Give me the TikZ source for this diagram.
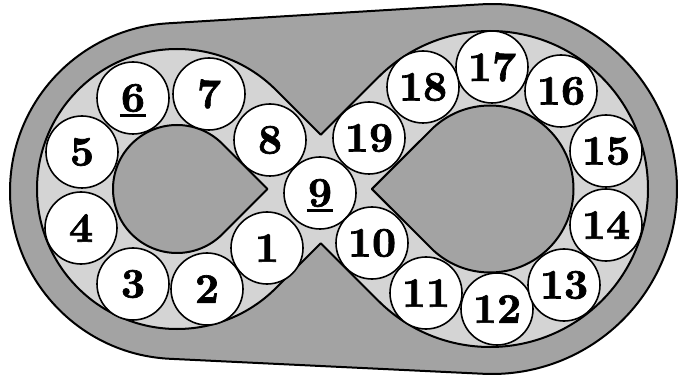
\documentclass[tikz,border=0pt]{standalone}
\usepackage{fontspec}
\usepackage{tikz}
\usetikzlibrary{calc}
\definecolor{bandgray}{HTML}{A3A3A3}
\definecolor{ringgray}{HTML}{D4D4D4}
\newfontfamily\heavynum{lmroman10-bold}[Extension=.otf, FakeBold=1.6]
\newcommand{\ulnum}[1]{\setbox0=\hbox{#1}\rlap{\kern-1pt\smash{\rule[-5pt]{\dimexpr\wd0+2pt\relax}{3pt}}}\box0}

\begin{document}
\begin{tikzpicture}[
    x=1pt, y=1pt,
    seat/.style={circle, draw, line width=1.6pt, fill=white, minimum size=72pt, inner sep=0pt,
        font=\fontsize{42}{42}\selectfont\heavynum},
    outline/.style={draw, line width=2pt, line join=round},
]
    \useasboundingbox (0,0) rectangle (681,-377);

    % outer band
    \coordinate (o1) at (178,-191);
    \coordinate (o2) at (492,-189);
    \draw[outline, fill=bandgray] ($(o1)+(93.47:168)$) -- ($(o2)+(93.47:185)$)
        arc[start angle=93.47, end angle=-92.74, radius=185pt]
        -- ($(o1)+(-92.74:168)$)
        arc[start angle=267.26, end angle=93.47, radius=168pt] -- cycle;

    % figure eight
    \coordinate (L) at (177,-189);
    \coordinate (R) at (490,-189);
    \coordinate (tl) at ($(L)+(45:140)$);
    \coordinate (bl) at ($(L)+(-45:140)$);
    \coordinate (tr) at ($(R)+(135:158)$);
    \coordinate (br) at ($(R)+(-135:158)$);
    \coordinate (al) at ($(L)+(197.99,0)$);
    \coordinate (ar) at ($(R)-(223.45,0)$);
    \coordinate (vt) at (intersection of tl--al and tr--ar);
    \coordinate (vb) at (intersection of bl--al and br--ar);
    \draw[outline, fill=ringgray] (tl) -- (vt) -- (tr)
        arc[start angle=135, end angle=-135, radius=158pt] -- (vb) -- (bl)
        arc[start angle=-45, end angle=-315, radius=140pt] -- cycle;

    % holes
    \draw[outline, fill=bandgray] ($(L)+(45:64)$)
        arc[start angle=45, end angle=315, radius=64pt] -- ($(L)+(90.51,0)$) -- cycle;
    \draw[outline, fill=bandgray] ($(R)+(-135:83.5)$)
        arc[start angle=-135, end angle=135, radius=83.5pt] -- ($(R)-(118.09,0)$) -- cycle;

    \node[seat] (s1) at (267,-248) {1};
    \node[seat] (s2) at (207,-289) {2};
    \node[seat] (s3) at (133,-284) {3};
    \node[seat] (s4) at (81,-228) {4};
    \node[seat] (s5) at (82,-152) {5};
    \node[seat] (s6) at (133,-98) {\ulnum{6}};
    \node[seat] (s7) at (209,-94) {7};
    \node[seat] (s8) at (270,-140) {8};
    \node[seat] (s9) at (320,-193) {\ulnum{9}};
    \node[seat] (s10) at (372,-243) {10};
    \node[seat] (s11) at (426,-293) {11};
    \node[seat] (s12) at (497,-309) {12};
    \node[seat] (s13) at (564,-285) {13};
    \node[seat] (s14) at (606,-225) {14};
    \node[seat] (s15) at (606,-151) {15};
    \node[seat] (s16) at (561,-91) {16};
    \node[seat] (s17) at (492,-67) {17};
    \node[seat] (s18) at (423,-87) {18};
    \node[seat] (s19) at (369,-138) {19};
\end{tikzpicture}
\end{document}
